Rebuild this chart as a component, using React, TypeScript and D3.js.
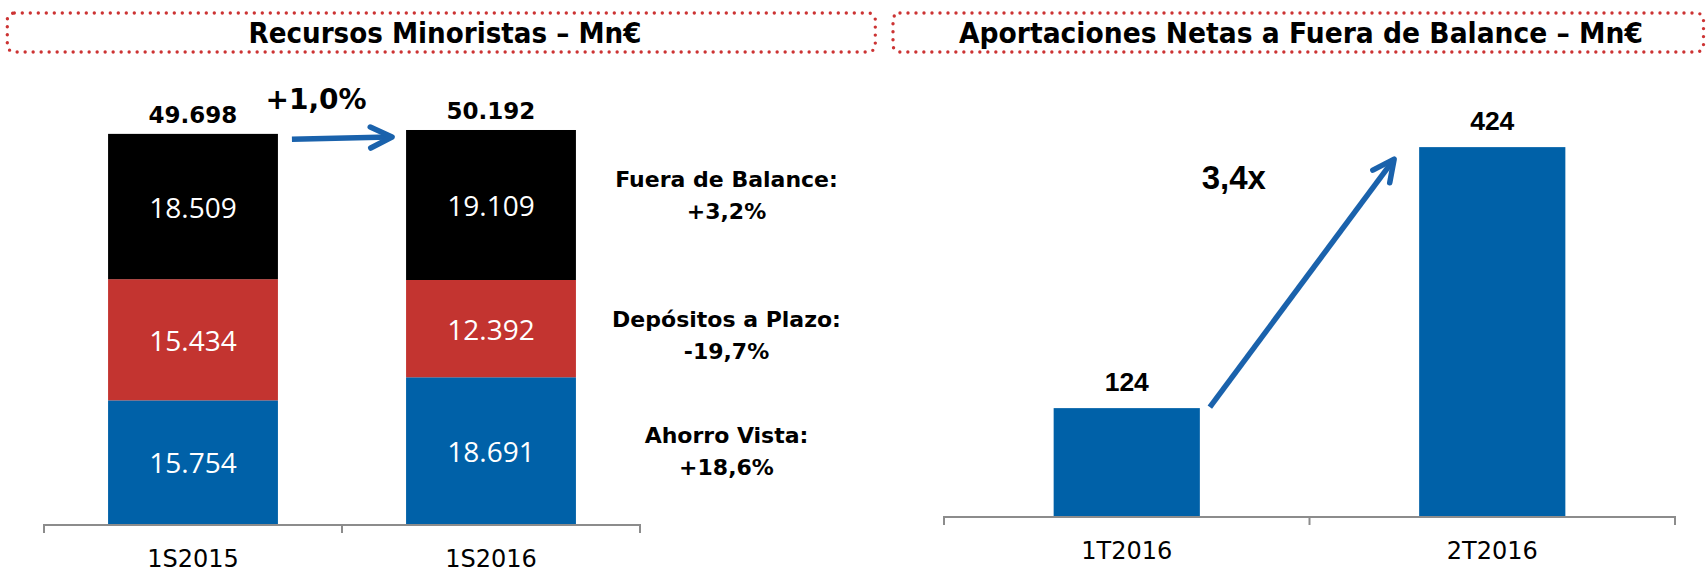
import React, { useEffect } from 'react';
import * as d3 from 'd3';

// ---------- data ----------
const leftCategories = ['1S2015', '1S2016'];
const ahorroVista = [15754, 18691];
const depositosPlazo = [15434, 12392];
const fueraBalance = [18509, 19109];
const leftTotals = [49698, 50192];
const leftChange = '+1,0%';
const annotationLabels = ['Fuera de Balance:', 'Depósitos a Plazo:', 'Ahorro Vista:'];
const annotationValues = ['+3,2%', '-19,7%', '+18,6%'];

const rightCategories = ['1T2016', '2T2016'];
const rightValues = [124, 424];
const rightChange = '3,4x';

const titles = ['Recursos Minoristas – Mn€', 'Aportaciones Netas a Fuera de Balance – Mn€'];

// ---------- style ----------
const W = 1708;
const H = 580;
const BLUE = '#0061A8';
const RED = '#C33430';
const BLACK = '#000000';
const ARROW = '#1A62AC';
const DOT_RED = '#CC3333';
const AXIS = '#8C8C8C';
const FUTURA = "'DejaVu Sans', 'Liberation Sans', sans-serif";
const CALIBRI = "'Open Sans', 'Liberation Sans', sans-serif";
const ARIALB = "'Liberation Sans', Arial, sans-serif";

const locale = d3.formatLocale({ decimal: ',', thousands: '.', grouping: [3], currency: ['', '€'] });
const fmt = locale.format(',d');

const seriesKeys = ['ahorro', 'depositos', 'fuera'];
const seriesColors: Record<string, string> = { ahorro: BLUE, depositos: RED, fuera: BLACK };

function Arrow({ x1, y1, x2, y2 }: { x1: number; y1: number; x2: number; y2: number }) {
  const ang = Math.atan2(y1 - y2, x1 - x2);
  const len = 24;
  const spread = (26 * Math.PI) / 180;
  const a1 = [x2 + len * Math.cos(ang + spread), y2 + len * Math.sin(ang + spread)];
  const a2 = [x2 + len * Math.cos(ang - spread), y2 + len * Math.sin(ang - spread)];
  const shaftEnd = [x2 + 2.5 * Math.cos(ang), y2 + 2.5 * Math.sin(ang)];
  return (
    <g stroke={ARROW} strokeWidth={5.5} fill="none" strokeLinejoin="round">
      <line x1={x1} y1={y1} x2={shaftEnd[0]} y2={shaftEnd[1]} strokeLinecap="butt" />
      <polyline points={`${a1[0]},${a1[1]} ${x2},${y2} ${a2[0]},${a2[1]}`} strokeLinecap="round" />
    </g>
  );
}

function TitleBox({ x, w, text, cx, tl }: { x: number; w: number; text: string; cx: number; tl: number }) {
  return (
    <g>
      <rect
        x={x}
        y={13}
        width={w}
        height={39}
        rx={7}
        fill="none"
        stroke={DOT_RED}
        strokeWidth={3.4}
        strokeDasharray="0 8"
        strokeLinecap="round"
      />
      <text
        x={cx}
        y={43.3}
        textAnchor="middle"
        fontFamily={FUTURA}
        fontWeight="bold"
        fontSize={28}
        textLength={tl}
        lengthAdjust="spacingAndGlyphs"
        fill="#000"
      >
        {text}
      </text>
    </g>
  );
}

function bandBoundaries(x: d3.ScaleBand<string>) {
  const step = x.step();
  const half = (x.paddingInner() * step) / 2;
  const b = x.domain().map((c) => (x(c) as number) - half);
  b.push(x.range()[1]);
  return b;
}

export default function App() {
  useEffect(() => {
    document.body.style.margin = '0';
  }, []);

  // Left chart
  const leftAxisY = 524;
  const xLeft = d3.scaleBand<string>().domain(leftCategories).range([44, 640]).paddingInner(0.43).paddingOuter(0.215);
  const yLeft = d3.scaleLinear().domain([0, 60000]).range([leftAxisY, 53]);
  const rows = leftCategories.map((c, i) => ({
    cat: c,
    ahorro: ahorroVista[i],
    depositos: depositosPlazo[i],
    fuera: fueraBalance[i],
  }));
  const stacked = d3.stack<any>().keys(seriesKeys)(rows);
  const bwL = xLeft.bandwidth();

  // Right chart
  const rightAxisY = 516;
  const xRight = d3.scaleBand<string>().domain(rightCategories).range([944, 1675]).paddingInner(0.6).paddingOuter(0.3);
  const yRight = d3.scaleLinear().domain([0, 500]).range([rightAxisY, 81]);
  const bwR = xRight.bandwidth();

  // Left arrow
  const la = {
    x1: (xLeft(leftCategories[0]) as number) + bwL + 14,
    y1: yLeft(leftTotals[0]) + 5.5,
    x2: (xLeft(leftCategories[1]) as number) - 14,
    y2: yLeft(leftTotals[1]) + 7,
  };
  // Right arrow
  const ra = {
    x1: (xRight(rightCategories[0]) as number) + bwR + 10,
    y1: yRight(rightValues[0]) - 1,
    x2: (xRight(rightCategories[1]) as number) - 25,
    y2: yRight(rightValues[1]) + 12,
  };

  const annX = 726.5;
  const annBaselines = [186.7, 327, 443.3];
  const annGap = 32;

  const leftBounds = bandBoundaries(xLeft);
  const rightBounds = bandBoundaries(xRight);

  return (
    <svg width={W} height={H} style={{ position: 'absolute', left: 0, top: 0, background: '#fff' }}>
      <rect x={0} y={0} width={W} height={H} fill="#fff" />
      <TitleBox x={7.3} w={868} text={titles[0]} cx={445} tl={393} />
      <TitleBox x={893} w={810.5} text={titles[1]} cx={1301} tl={684} />

      {/* left stacked bars */}
      {stacked.map((s) => (
        <g key={s.key}>
          {s.map((d, i) => {
            const x0 = xLeft(leftCategories[i]) as number;
            const yTop = yLeft(d[1]);
            const yBot = yLeft(d[0]);
            return (
              <g key={i}>
                <rect x={x0} y={yTop} width={bwL} height={yBot - yTop} fill={seriesColors[s.key]} />
                <text
                  x={x0 + bwL / 2}
                  y={(yTop + yBot) / 2 + 11}
                  textAnchor="middle"
                  fontFamily={CALIBRI}
                  fontSize={28}
                  fill="#fff"
                >
                  {fmt(d[1] - d[0])}
                </text>
              </g>
            );
          })}
        </g>
      ))}

      {/* left totals */}
      {leftCategories.map((c, i) => (
        <text
          key={c}
          x={(xLeft(c) as number) + bwL / 2}
          y={yLeft(leftTotals[i]) - 11}
          textAnchor="middle"
          fontFamily={FUTURA}
          fontWeight="bold"
          fontSize={23}
          fill="#000"
        >
          {fmt(leftTotals[i])}
        </text>
      ))}

      {/* left axis */}
      <g stroke={AXIS} strokeWidth={2} fill="none">
        <line x1={xLeft.range()[0]} x2={xLeft.range()[1]} y1={leftAxisY + 1} y2={leftAxisY + 1} />
        {leftBounds.map((b, i) => (
          <line key={i} x1={b} x2={b} y1={leftAxisY} y2={leftAxisY + 9} />
        ))}
      </g>
      {leftCategories.map((c) => (
        <text
          key={c}
          x={(xLeft(c) as number) + bwL / 2}
          y={leftAxisY + 43}
          textAnchor="middle"
          fontFamily={FUTURA}
          fontSize={24}
          fill="#000"
        >
          {c}
        </text>
      ))}

      {/* left change arrow */}
      <Arrow {...la} />
      <text
        x={(la.x1 + la.x2) / 2 - 26}
        y={la.y1 - 30}
        textAnchor="middle"
        fontFamily={FUTURA}
        fontWeight="bold"
        fontSize={28}
        fill="#000"
      >
        {leftChange}
      </text>

      {/* annotations */}
      {annotationLabels.map((l, i) => (
        <g key={l}>
          <text x={annX} y={annBaselines[i]} textAnchor="middle" fontFamily={FUTURA} fontWeight="bold" fontSize={22} fill="#000">
            {l}
          </text>
          <text
            x={annX}
            y={annBaselines[i] + annGap}
            textAnchor="middle"
            fontFamily={FUTURA}
            fontWeight="bold"
            fontSize={22}
            fill="#000"
          >
            {annotationValues[i]}
          </text>
        </g>
      ))}

      {/* right bars */}
      {rightCategories.map((c, i) => (
        <g key={c}>
          <rect
            x={xRight(c) as number}
            y={yRight(rightValues[i])}
            width={bwR}
            height={rightAxisY - yRight(rightValues[i])}
            fill={BLUE}
          />
          <text
            x={(xRight(c) as number) + bwR / 2}
            y={yRight(rightValues[i]) - 17}
            textAnchor="middle"
            fontFamily={ARIALB}
            fontWeight="bold"
            fontSize={26.5}
            fill="#000"
          >
            {rightValues[i]}
          </text>
        </g>
      ))}

      {/* right axis */}
      <g stroke={AXIS} strokeWidth={2} fill="none">
        <line x1={xRight.range()[0]} x2={xRight.range()[1]} y1={rightAxisY + 1} y2={rightAxisY + 1} />
        {rightBounds.map((b, i) => (
          <line key={i} x1={b} x2={b} y1={rightAxisY} y2={rightAxisY + 9} />
        ))}
      </g>
      {rightCategories.map((c) => (
        <text
          key={c}
          x={(xRight(c) as number) + bwR / 2}
          y={rightAxisY + 43}
          textAnchor="middle"
          fontFamily={FUTURA}
          fontSize={24}
          fill="#000"
        >
          {c}
        </text>
      ))}

      {/* right change arrow */}
      <Arrow {...ra} />
      <text
        x={ra.x1 + 24}
        y={ra.y2 + 30}
        textAnchor="middle"
        fontFamily={ARIALB}
        fontWeight="bold"
        fontSize={33}
        fill="#000"
      >
        {rightChange}
      </text>
    </svg>
  );
}
